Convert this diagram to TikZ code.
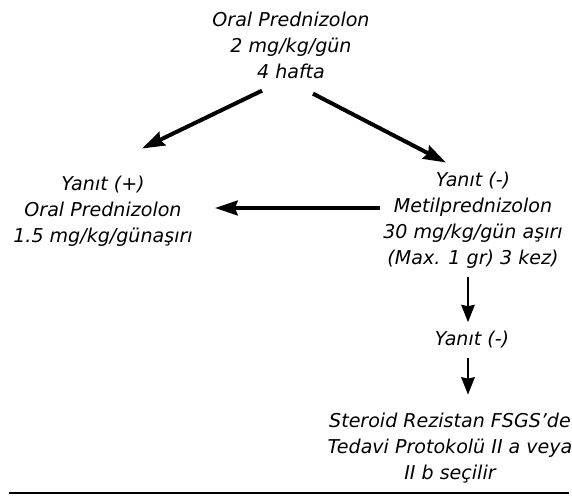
\documentclass[tikz,border=0pt]{standalone}
\usepackage{fontspec}
\setmainfont{DejaVu Sans}
\usetikzlibrary{arrows.meta,calc}
\begin{document}
\begin{tikzpicture}[x=0.75pt, y=-0.75pt,
	mynode/.style={align=center, inner sep=0pt, font=\fontsize{14.3}{19.5}\selectfont\itshape},
	thickarrow/.style={line width=3pt, -{Stealth[length=17pt, width=11pt, inset=2pt]}},
	thinarrow/.style={line width=2pt, -{Stealth[length=13pt, width=10pt, inset=1pt]}}]
		\useasboundingbox (0,0) rectangle (572,497);
		\node[mynode] (1) at (291,45) {Oral Prednizolon\\2 mg/kg/gün\\4 hafta};
		\node[mynode] (2) at (103,211) {Yanıt (+)\\Oral Prednizolon\\1.5 mg/kg/günaşırı};
		\node[mynode] (3) at (473,220) {Yanıt (-)\\Metilprednizolon\\30 mg/kg/gün aşırı\\(Max. 1 gr) 3 kez)};
		\node[mynode] (4) at (472,340) {Yanıt (-)};
		\node[mynode] (5) at (450,448) {Steroid Rezistan FSGS’de\\Tedavi Protokolü II a veya\\II b seçilir};

		\path
		($(1.south)+(-29,12)$) edge[thickarrow] ($(2.north)+(39,-27)$)
		($(1.south)+(22,15)$) edge[thickarrow] ($(3.north)+(-27,-9)$)
		($(3.west)+(-3,-12)$) edge[thickarrow] ($(2.east)+(22,-3)$)
		($(3.south)+(-5,9)$) edge[thinarrow] ($(4.north)+(-4,-9)$)
		($(4.south)+(-4,9)$) edge[thinarrow] ($(5.north)+(18,-18)$);

		\draw[line width=1.1pt] (9,493) -- (569,493);
	\end{tikzpicture}
\end{document}
